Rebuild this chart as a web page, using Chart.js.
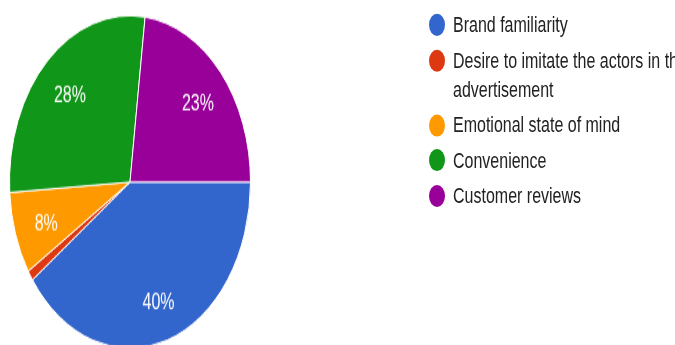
<!DOCTYPE html>
<html>
<head>
<meta charset="utf-8">
<script src="https://cdn.jsdelivr.net/npm/chart.js@4.4.1/dist/chart.umd.min.js"></script>
<style>
  html, body { margin: 0; padding: 0; background: #fff; overflow: hidden; }
  body { width: 675px; height: 345px; position: relative; }
  /* the whole chart is drawn flat, then stretched tall */
  #stage { position: absolute; left: 0; top: 0; width: 675px; height: 250px;
           transform: scaleY(1.38); transform-origin: 0 0; }
  #pieBox { position: absolute; left: 0; top: 0; width: 262px; height: 264px; }
  #legend { position: absolute; left: 429px; top: 7.3px; width: 262px; margin: 0; padding: 0;
            list-style: none; font-family: "Liberation Sans", Arial, sans-serif; font-size: 16px;
            color: #222; }
  #legend li { position: relative; padding-left: 24px; line-height: 21.6px; margin-bottom: 4px; }
  #legend .dot { position: absolute; left: 0; top: 2.8px; width: 16px; height: 16px; border-radius: 50%; }
</style>
</head>
<body>
<div id="stage">
  <div id="pieBox"><canvas id="ctx-pie"></canvas></div>
  <ul id="legend"></ul>
</div>
<script>
const labels = [
    'Brand familiarity',
    'Desire to imitate the actors in the advertisement',
    'Emotional state of mind',
    'Convenience',
    'Customer reviews'
];
const shares = [40, 1, 8, 28, 23];
const colors = ['#3366cc', '#dc3912', '#ff9900', '#109618', '#990099'];

// percent text inside each slice, skipped for the tiny ones
const sliceLabels = {
    id: 'sliceLabels',
    afterDatasetsDraw(chart) {
        const ctx = chart.ctx;
        const meta = chart.getDatasetMeta(0);
        const total = shares.reduce((a, b) => a + b, 0);
        ctx.save();
        ctx.fillStyle = '#fff';
        ctx.font = '16px "Liberation Sans", Arial, sans-serif';
        ctx.textAlign = 'center';
        ctx.textBaseline = 'middle';
        meta.data.forEach((arc, i) => {
            const pct = Math.round(shares[i] / total * 100);
            if (pct < 5) return;
            const p = arc.getProps(['x', 'y', 'startAngle', 'endAngle', 'outerRadius'], true);
            const mid = (p.startAngle + p.endAngle) / 2;
            const r = p.outerRadius * 0.74;
            ctx.fillText(pct + '%', p.x + Math.cos(mid) * r + 1, p.y + Math.sin(mid) * r + 3);
        });
        ctx.restore();
    }
};

new Chart(document.getElementById('ctx-pie'), {
    type: 'pie',
    data: {
        labels: labels,
        datasets: [{
            data: shares,
            backgroundColor: colors,
            borderColor: '#fff',
            borderWidth: 1,
            hoverOffset: 0,
            offset: 0
        }]
    },
    options: {
        responsive: true,
        maintainAspectRatio: false,
        animation: false,
        rotation: 90,
        layout: { padding: { left: 9, right: 11, top: 10.9, bottom: 11.1 } },
        plugins: {
            legend: { display: false },
            tooltip: { enabled: false }
        }
    },
    plugins: [sliceLabels]
});

const legend = document.getElementById('legend');
labels.forEach((name, i) => {
    const li = document.createElement('li');
    const dot = document.createElement('span');
    dot.className = 'dot';
    dot.style.background = colors[i];
    li.appendChild(dot);
    li.appendChild(document.createTextNode(name));
    legend.appendChild(li);
});
</script>
</body>
</html>
